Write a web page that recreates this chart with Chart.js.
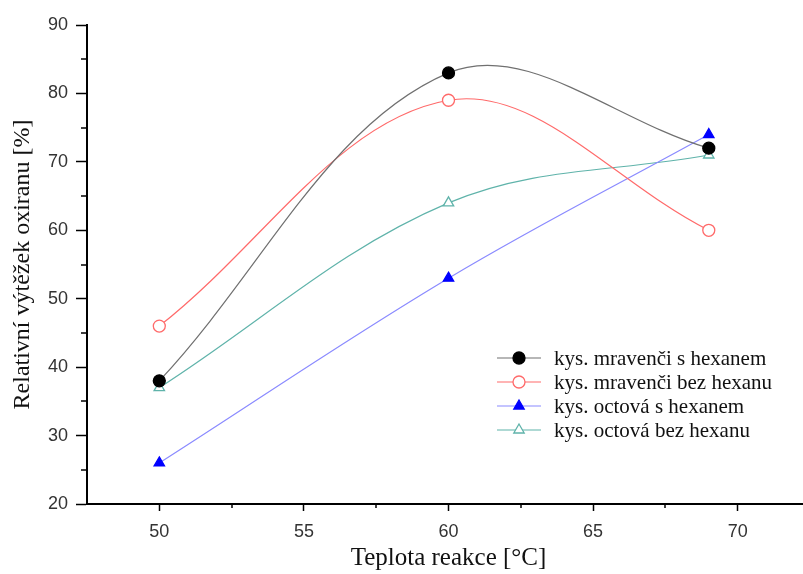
<!DOCTYPE html>
<html>
<head>
<meta charset="utf-8">
<script src="https://cdn.jsdelivr.net/npm/chart.js@4/dist/chart.umd.min.js"></script>
<style>
html,body{margin:0;padding:0;background:#fff;overflow:hidden;width:803px;height:574px;}
#wrap{position:relative;width:820px;height:574px;}
</style>
</head>
<body>
<div id="wrap"><canvas id="c" width="820" height="574"></canvas></div>
<script>
const temperatures = [50, 60, 69];
const mravenciS = [38, 83, 72];
const mravenciBez = [46, 79, 60];
const octovaS = [26, 53, 74];
const octovaBez = [37, 64, 71];
const seriesNames = ['kys. mravenči s hexanem', 'kys. mravenči bez hexanu', 'kys. octová s hexanem', 'kys. octová bez hexanu'];
const xTitle = 'Teplota reakce [°C]';
const yTitle = 'Relativní výtěžek oxiranu [%]';

function pts(vals){ return temperatures.map((t,i)=>({x:t,y:vals[i]})); }

const styles = [
  {line:'#707070', fill:'#000000', stroke:'#000000', style:'circle'},
  {line:'#ff6a6a', fill:'#ffffff', stroke:'#ff6a6a', style:'circle'},
  {line:'#8a8aff', fill:'#0000ff', stroke:'#0000ff', style:'triangle'},
  {line:'#5fb3aa', fill:'#ffffff', stroke:'#5fb3aa', style:'triangle'}
];
const allVals = [mravenciS, mravenciBez, octovaS, octovaBez];

const datasets = allVals.map((v,i)=>({
  label: seriesNames[i],
  data: pts(v),
  borderColor: styles[i].line,
  borderWidth: 1.2,
  backgroundColor: styles[i].fill,
  pointBackgroundColor: styles[i].fill,
  pointBorderColor: styles[i].stroke,
  pointBorderWidth: 1.3,
  pointStyle: styles[i].style,
  pointRadius: 6,
  tension: 0.36,
  fill: false
}));

const minorTicks = {
  id:'minorTicks',
  afterDraw(chart){
    const ctx = chart.ctx;
    const xs = chart.scales.x, ys = chart.scales.y;
    ctx.save();
    ctx.strokeStyle = '#000';
    ctx.lineWidth = 1.5;
    for (let v = 52.5; v < 73; v += 5) {
      const px = Math.round(xs.getPixelForValue(v));
      ctx.beginPath(); ctx.moveTo(px, ys.bottom); ctx.lineTo(px, ys.bottom + 4); ctx.stroke();
    }
    for (let v = 25; v < 90; v += 10) {
      const py = Math.round(ys.getPixelForValue(v));
      ctx.beginPath(); ctx.moveTo(xs.left, py); ctx.lineTo(xs.left - 6, py); ctx.stroke();
    }
    ctx.restore();
  }
};

const legendPlugin = {
  id:'customLegend',
  afterDraw(chart){
    const ctx = chart.ctx;
    const x0 = 497, x1 = 541, mx = 519, tx = 554;
    const y0 = 358, dy = 24;
    ctx.save();
    ctx.font = '21px "Liberation Serif", "Times New Roman", serif';
    ctx.textBaseline = 'middle';
    chart.data.datasets.forEach((ds,i)=>{
      const y = y0 + i*dy;
      ctx.strokeStyle = ds.borderColor;
      ctx.lineWidth = 1.2;
      ctx.beginPath(); ctx.moveTo(x0, y); ctx.lineTo(x1, y); ctx.stroke();
      ctx.fillStyle = ds.pointBackgroundColor;
      ctx.strokeStyle = ds.pointBorderColor;
      ctx.lineWidth = 1.3;
      Chart.helpers.drawPoint(ctx, {pointStyle: ds.pointStyle, radius: 6, borderWidth: 1.3}, mx, y);
      ctx.fillStyle = '#111';
      ctx.fillText(ds.label, tx, y + 1);
    });
    ctx.restore();
  }
};

new Chart(document.getElementById('c'), {
  type: 'line',
  data: { datasets },
  options: {
    responsive: false,
    animation: false,
    layout: { padding: { top: 25, right: 8, left: 0, bottom: 0 } },
    plugins: { legend: { display: false }, tooltip: { enabled: false } },
    scales: {
      x: {
        type: 'linear',
        min: 47.5, max: 72.5,
        afterFit(s){ s.height = 70; },
        border: { display: true, color: '#000', width: 2 },
        grid: { display: true, drawOnChartArea: false, drawTicks: true, tickLength: 7, tickWidth: 1.5,
                tickColor: ctx => (ctx.tick && Math.abs(ctx.tick.value % 5) < 1e-6) ? '#000' : 'rgba(0,0,0,0)' },
        ticks: {
          stepSize: 2.5, padding: 10, color: '#333',
          font: { family: '"Liberation Sans", Arial, sans-serif', size: 18 },
          maxRotation: 0, autoSkip: false,
          callback: v => (Math.abs(v % 5) < 1e-6 && v >= 50 && v <= 70) ? String(v) : ''
        },
        title: { display: true, text: xTitle, color: '#111',
                 font: { family: '"Liberation Serif", "Times New Roman", serif', size: 25 },
                 padding: { top: 0, bottom: 1 } }
      },
      y: {
        min: 20, max: 90,
        afterFit(s){ s.width = 87; },
        border: { display: true, color: '#000', width: 2 },
        grid: { display: true, drawOnChartArea: false, drawTicks: true, tickLength: 11, tickWidth: 1.5, tickColor: '#000' },
        ticks: {
          stepSize: 10, padding: 8, color: '#333',
          font: { family: '"Liberation Sans", Arial, sans-serif', size: 18 }
        },
        title: { display: true, text: yTitle, color: '#111',
                 font: { family: '"Liberation Serif", "Times New Roman", serif', size: 24 },
                 padding: { top: 8, bottom: 0 } }
      }
    }
  },
  plugins: [minorTicks, legendPlugin]
});
</script>
</body>
</html>
